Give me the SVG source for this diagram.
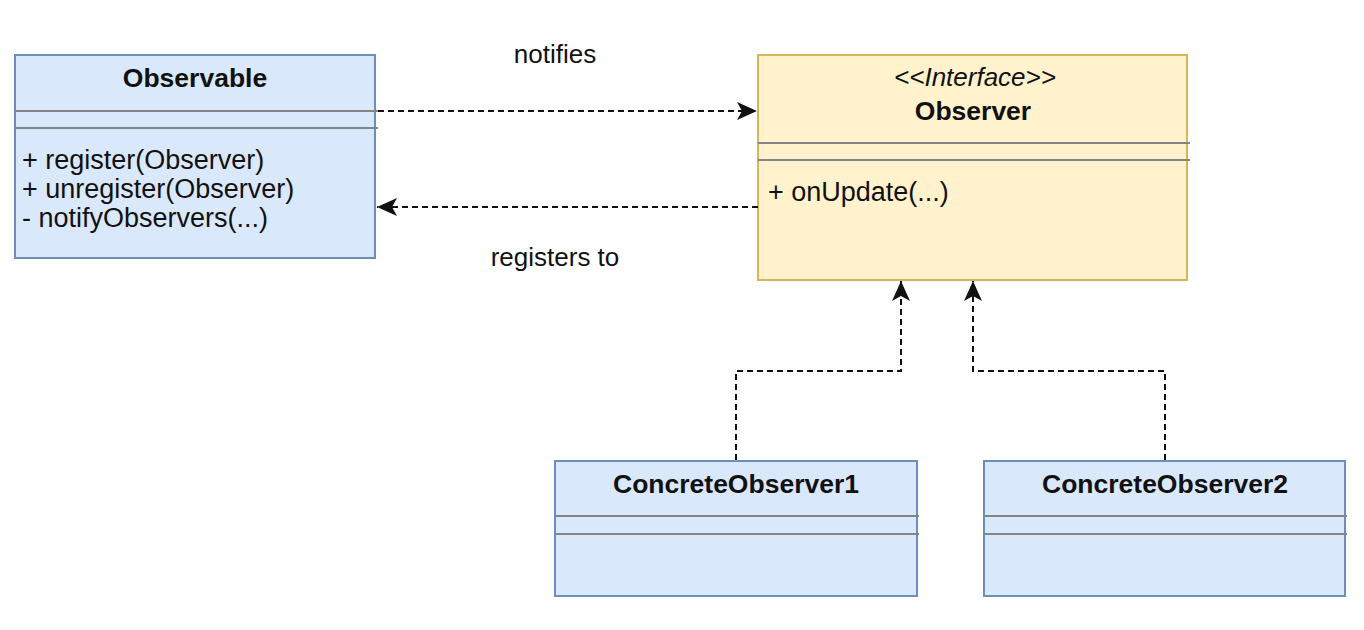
<svg xmlns="http://www.w3.org/2000/svg" width="1364" height="630" viewBox="0 0 1364 630">
<style>
.blue{fill:#dae8fc;stroke:#6c8ebf;stroke-width:2}
.yellow{fill:#fff2cc;stroke:#d6b656;stroke-width:2}
.div{stroke:#848484;stroke-width:2;fill:none}
.t{font-family:"Liberation Sans",Arial,sans-serif;font-size:26px;fill:#111}
.m{font-size:27px}
.b{font-weight:bold;text-anchor:middle;font-size:26.5px}
.c{text-anchor:middle}
.i{font-style:italic;text-anchor:middle}
.conn{stroke:#111;stroke-width:2;fill:none;stroke-dasharray:6 4}
</style>
<defs>
<marker id="arr" viewBox="0 0 20 18" refX="20" refY="9" markerWidth="20" markerHeight="18" markerUnits="userSpaceOnUse" orient="auto">
<path d="M0,0 L20,9 L0,18 L5,9 Z" fill="#111"/>
</marker>
</defs>
<g id="observable">
<rect class="blue" x="15" y="55" width="360" height="203"/>
<line class="div" x1="15" y1="111" x2="378" y2="111"/>
<line class="div" x1="15" y1="128" x2="378" y2="128"/>
<text class="t b" x="195" y="87">Observable</text>
<text class="t m" x="22" y="169">+ register(Observer)</text>
<text class="t m" x="22" y="198">+ unregister(Observer)</text>
<text class="t m" x="22" y="227">- notifyObservers(...)</text>
</g>
<g id="observer">
<rect class="yellow" x="758" y="55" width="429" height="225"/>
<line class="div" x1="758" y1="143" x2="1190" y2="143"/>
<line class="div" x1="758" y1="160" x2="1190" y2="160"/>
<text class="t i" x="975" y="86">&lt;&lt;Interface&gt;&gt;</text>
<text class="t b" x="973" y="120">Observer</text>
<text class="t m" x="768" y="201">+ onUpdate(...)</text>
</g>
<g id="concreteObserver1">
<rect class="blue" x="555" y="461" width="362" height="135"/>
<line class="div" x1="555" y1="516" x2="919" y2="516"/>
<line class="div" x1="555" y1="534" x2="919" y2="534"/>
<text class="t b" x="736" y="493">ConcreteObserver1</text>
</g>
<g id="concreteObserver2">
<rect class="blue" x="984" y="461" width="361" height="135"/>
<line class="div" x1="984" y1="516" x2="1347" y2="516"/>
<line class="div" x1="984" y1="534" x2="1347" y2="534"/>
<text class="t b" x="1165" y="493">ConcreteObserver2</text>
</g>
<g id="connectors">
<path class="conn" d="M378,111 L757,111" marker-end="url(#arr)"/>
<path class="conn" d="M758,207 L377,207" marker-end="url(#arr)"/>
<path class="conn" d="M736,460 L736,371 L901,371 L901,281" marker-end="url(#arr)"/>
<path class="conn" d="M1165,460 L1165,371 L973,371 L973,281" marker-end="url(#arr)"/>
<text class="t c" x="555" y="63">notifies</text>
<text class="t c" x="555" y="266">registers to</text>
</g>
</svg>
